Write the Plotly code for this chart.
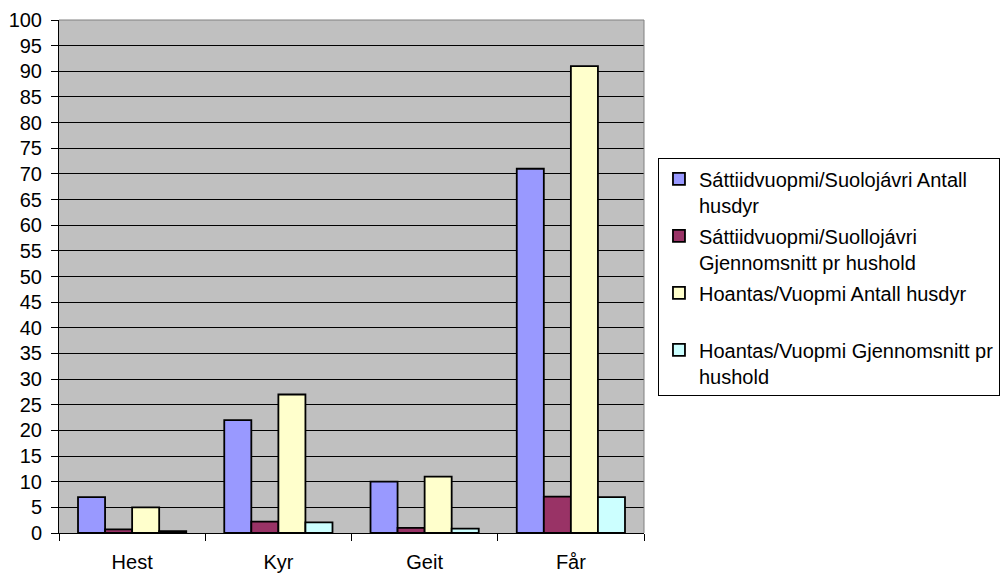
import plotly.graph_objects as go

categories = ["Hest", "Kyr", "Geit", "Får"]
series_names = [
    "Sáttiidvuopmi/Suolojávri Antall<br>husdyr",
    "Sáttiidvuopmi/Suollojávri<br>Gjennomsnitt pr hushold",
    "Hoantas/Vuopmi Antall husdyr<br> ",
    "Hoantas/Vuopmi Gjennomsnitt pr<br>hushold",
]
s1_antall = [7, 22, 10, 71]
s2_snitt = [0.7, 2.2, 1.0, 7.1]
s3_antall = [5, 27, 11, 91]
s4_snitt = [0.38, 2.08, 0.85, 7.0]
colors = ["#9999FF", "#993366", "#FFFFCC", "#CCFFFF"]

fig = go.Figure()
for name, vals, col in zip(series_names, [s1_antall, s2_snitt, s3_antall, s4_snitt], colors):
    fig.add_trace(go.Bar(
        x=categories, y=vals, name=name,
        marker=dict(color=col, line=dict(color="black", width=1.8)),
        legendgroup=name,
    ))

fig.update_layout(
    width=1003, height=574,
    margin=dict(l=59, r=359, t=20, b=41),
    paper_bgcolor="white",
    plot_bgcolor="#C0C0C0",
    font=dict(family="Liberation Sans, Arial, sans-serif", size=20, color="black"),
    barmode="group",
    bargap=0.26,
    bargroupgap=0,
    showlegend=True,
    legend=dict(
        xref="container", yref="container",
        x=0.656, y=0.724, xanchor="left", yanchor="top",
        bgcolor="white", bordercolor="black", borderwidth=1,
        valign="top", tracegroupgap=2,
        font=dict(size=20),
    ),
    xaxis=dict(
        showline=True, linecolor="black", linewidth=1,
        ticks="outside", ticklen=7, tickcolor="black", tickson="boundaries",
        ticklabelstandoff=11,
        showgrid=False, automargin=False,
    ),
    yaxis=dict(
        range=[0, 100], dtick=5, tick0=0,
        showline=True, linecolor="black", linewidth=1,
        ticks="outside", ticklen=7, tickcolor="black",
        showgrid=True, gridcolor="black", gridwidth=1,
        zeroline=False, automargin=False,
        ticklabelstandoff=5,
    ),
    shapes=[
        dict(type="line", xref="paper", yref="paper", x0=0, x1=1, y0=1, y1=1,
             line=dict(color="#808080", width=1), layer="above"),
        dict(type="line", xref="paper", yref="paper", x0=1, x1=1, y0=0, y1=1,
             line=dict(color="#808080", width=1), layer="above"),
    ],
)

fig.write_html(
    "out.html",
    config={"displayModeBar": False},
    post_script="document.body.style.margin='0';document.body.style.overflow='hidden';",
)
